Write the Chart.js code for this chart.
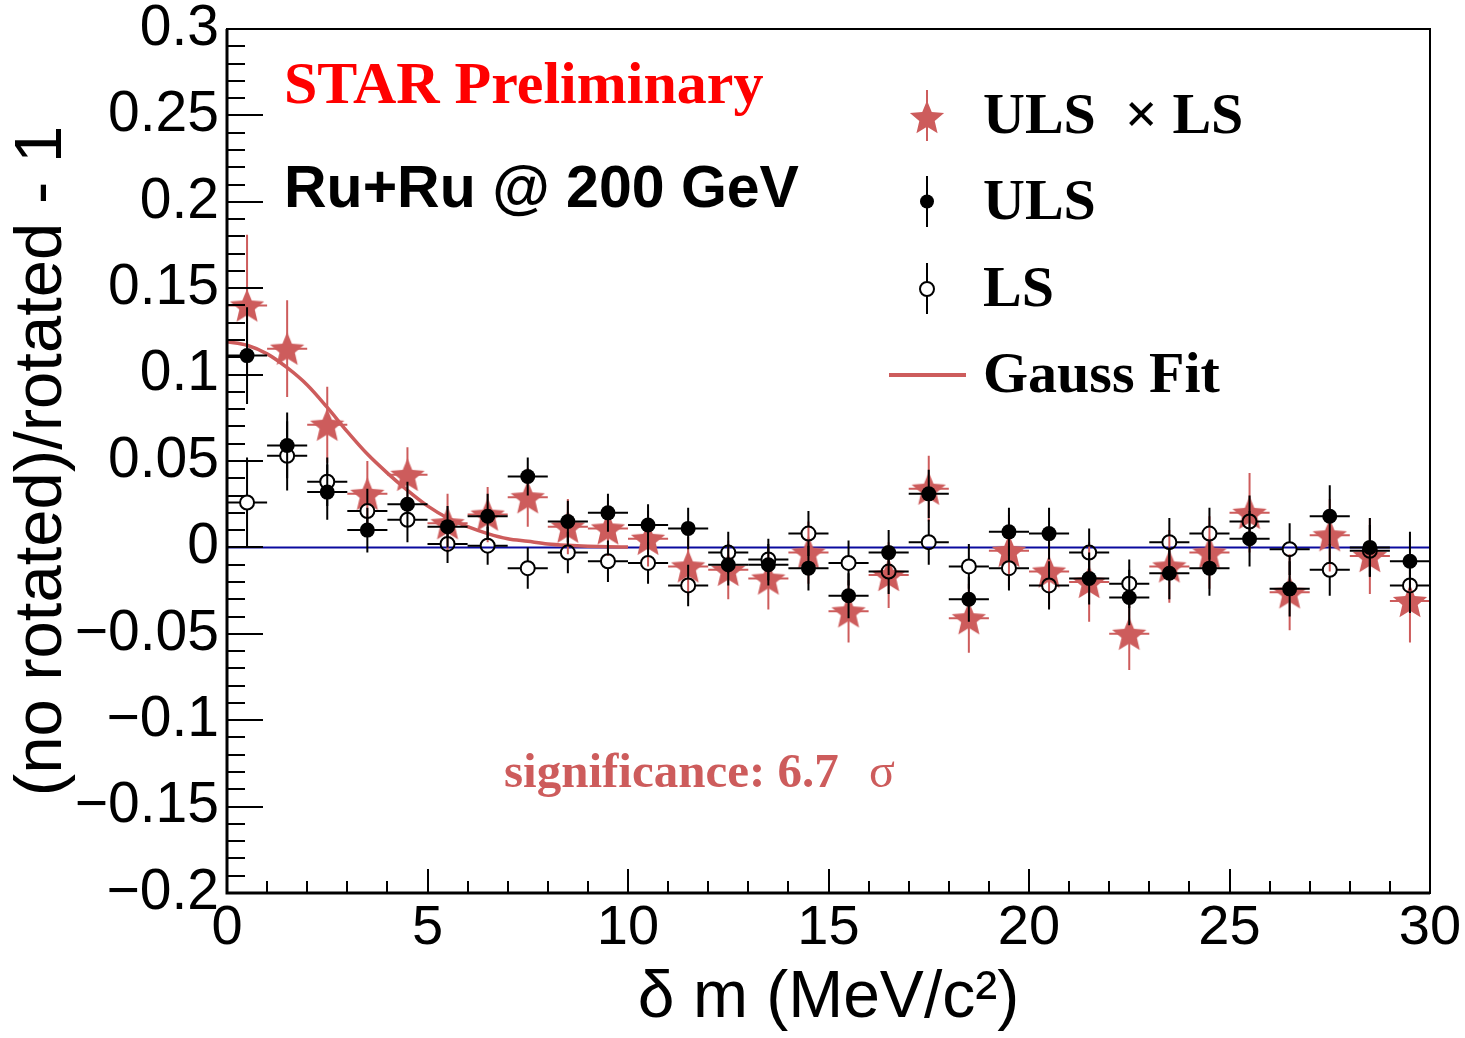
<!DOCTYPE html>
<html><head><meta charset="utf-8">
<script src="https://cdn.jsdelivr.net/npm/chart.js@4.4.0/dist/chart.umd.min.js"></script>
<style>html,body{margin:0;padding:0;background:#fff;overflow:hidden}#wrap{width:1465px;height:1038px}</style>
</head><body><div id="wrap"><canvas id="c" width="1465" height="1038"></canvas></div>
<script>
// ---------------- data ----------------
const binCenters = [0.5,1.5,2.5,3.5,4.5,5.5,6.5,7.5,8.5,9.5,10.5,11.5,12.5,13.5,14.5,15.5,16.5,17.5,18.5,19.5,20.5,21.5,22.5,23.5,24.5,25.5,26.5,27.5,28.5,29.5];
const binHalfWidth = 0.5;
const ulsXls = [0.140,0.115,0.071,0.031,0.042,0.014,0.019,0.029,0.012,0.011,0.005,-0.011,-0.013,-0.018,-0.003,-0.037,-0.016,0.034,-0.041,-0.002,-0.014,-0.020,-0.050,-0.011,-0.003,0.020,-0.026,0.007,-0.005,-0.031];
const ulsXlsErr = [0.041,0.028,0.022,0.019,0.016,0.017,0.016,0.017,0.016,0.016,0.016,0.017,0.017,0.018,0.018,0.018,0.019,0.019,0.020,0.021,0.021,0.023,0.021,0.021,0.021,0.023,0.022,0.021,0.022,0.024];
const uls = [0.111,0.059,0.032,0.010,0.025,0.012,0.018,0.041,0.015,0.020,0.013,0.011,-0.010,-0.010,-0.012,-0.028,-0.003,0.031,-0.030,0.009,0.008,-0.018,-0.029,-0.015,-0.012,0.005,-0.024,0.018,0.000,-0.008];
const ulsErr = [0.028,0.019,0.016,0.013,0.013,0.012,0.013,0.011,0.012,0.011,0.012,0.012,0.012,0.012,0.013,0.013,0.013,0.014,0.013,0.014,0.015,0.015,0.016,0.015,0.016,0.016,0.016,0.018,0.017,0.017];
const ls = [0.026,0.053,0.038,0.021,0.016,0.002,0.001,-0.012,-0.003,-0.008,-0.009,-0.022,-0.003,-0.007,0.008,-0.009,-0.014,0.003,-0.011,-0.012,-0.022,-0.003,-0.021,0.003,0.008,0.015,-0.001,-0.013,-0.002,-0.022];
const lsErr = [0.026,0.020,0.014,0.013,0.013,0.011,0.011,0.012,0.012,0.012,0.012,0.012,0.012,0.012,0.013,0.013,0.013,0.013,0.013,0.013,0.014,0.014,0.014,0.014,0.015,0.015,0.015,0.015,0.015,0.016];
const gaussX = [0,0.5,1,1.5,2,2.5,3,3.5,4,4.5,5,5.5,6,6.5,7,7.5,8,8.5,9,9.5,10];
const gaussY = [0.119,0.117,0.112,0.104,0.094,0.081,0.067,0.054,0.043,0.033,0.024,0.017,0.012,0.008,0.005,0.0035,0.002,0.0012,0.0007,0.0004,0.0002];
const zeroLineX = [0,30];
const zeroLineY = [0,0];
const xTickLabels = ['0','5','10','15','20','25','30'];
const yTickLabels = ['\u22120.2','\u22120.15','\u22120.1','\u22120.05','0','0.05','0.1','0.15','0.2','0.25','0.3'];

// ---------------- styling ----------------
const RED = '#cd5c5c';
const SANS = '"Liberation Sans", Arial, sans-serif';
const SERIF = '"Liberation Serif", "Times New Roman", serif';

function makeStar(R, color) {
  const c = document.createElement('canvas');
  const s = Math.ceil(2 * R + 2);
  c.width = s; c.height = s;
  const g = c.getContext('2d');
  const cx = s / 2, cy = s / 2 + R * 0.09;
  const r = R * 0.45;
  g.beginPath();
  for (let i = 0; i < 10; i++) {
    const a = -Math.PI / 2 + i * Math.PI / 5;
    const rr = (i % 2 === 0) ? R : r;
    const px = cx + rr * Math.cos(a), py = cy + rr * Math.sin(a);
    if (i === 0) g.moveTo(px, py); else g.lineTo(px, py);
  }
  g.closePath();
  g.fillStyle = color;
  g.fill();
  return c;
}
const starImg = makeStar(18, RED);

const pts = (xs, ys) => xs.map((x, i) => ({x, y: ys[i]}));

const errPlugin = {
  id: 'errbars',
  beforeDatasetDraw(chart, args) {
    const ds = chart.data.datasets[args.index];
    if (!ds.yErr) return;
    const xs = chart.scales.x, ys = chart.scales.y;
    const ctx = chart.ctx;
    ctx.save();
    ctx.strokeStyle = ds.errColor;
    ctx.lineWidth = 2;
    const gap = ds.errGap || 0;
    ds.data.forEach((p, i) => {
      const px = xs.getPixelForValue(p.x), py = ys.getPixelForValue(p.y);
      const x0 = xs.getPixelForValue(p.x - binHalfWidth), x1 = xs.getPixelForValue(p.x + binHalfWidth);
      const yt = ys.getPixelForValue(p.y + ds.yErr[i]), yb = ys.getPixelForValue(p.y - ds.yErr[i]);
      ctx.beginPath();
      ctx.moveTo(x0, py); ctx.lineTo(px - gap, py);
      ctx.moveTo(px + gap, py); ctx.lineTo(x1, py);
      ctx.moveTo(px, yt); ctx.lineTo(px, Math.min(yb, py - gap) < yt ? yt : py - gap);
      ctx.moveTo(px, py + gap); ctx.lineTo(px, Math.max(yb, py + gap));
      ctx.stroke();
    });
    ctx.restore();
  }
};

const decorPlugin = {
  id: 'decor',
  afterDatasetsDraw(chart) {
    const ctx = chart.ctx;
    const a = chart.chartArea;
    const xs = chart.scales.x, ys = chart.scales.y;
    ctx.save();
    // frame
    ctx.strokeStyle = '#000';
    ctx.lineWidth = 2;
    ctx.strokeRect(a.left, a.top, a.right - a.left, a.bottom - a.top);
    ctx.lineWidth = 3;
    ctx.beginPath();
    ctx.moveTo(a.left, a.top); ctx.lineTo(a.left, a.bottom); ctx.lineTo(a.right, a.bottom);
    ctx.stroke();
    // ticks
    ctx.lineWidth = 2;
    ctx.beginPath();
    for (let k = 0; k <= 50; k++) {
      const v = -0.2 + k * 0.01;
      const py = Math.round(ys.getPixelForValue(v));
      const len = (k % 5 === 0) ? 36 : 18;
      ctx.moveTo(a.left, py); ctx.lineTo(a.left + len, py);
    }
    for (let k = 0; k <= 30; k++) {
      const px = Math.round(xs.getPixelForValue(k));
      const len = (k % 5 === 0) ? 24 : 12;
      ctx.moveTo(px, a.bottom); ctx.lineTo(px, a.bottom - len);
    }
    ctx.stroke();

    // texts
    ctx.textAlign = 'left';
    ctx.textBaseline = 'alphabetic';
    ctx.fillStyle = '#ff0000';
    ctx.font = 'bold 60px ' + SERIF;
    ctx.fillText('STAR Preliminary', 284, 103);
    ctx.fillStyle = '#000';
    ctx.font = 'bold 59px ' + SANS;
    ctx.fillText('Ru+Ru @ 200 GeV', 284, 207);
    ctx.fillStyle = RED;
    ctx.font = 'bold 49px ' + SERIF;
    ctx.fillText('significance: 6.7', 504, 787);
    ctx.font = '48px ' + SERIF;
    ctx.fillText('\u03c3', 869, 787);

    // legend
    const mx = 927;
    ctx.lineWidth = 2;
    ctx.strokeStyle = RED;
    ctx.beginPath(); ctx.moveTo(mx, 90); ctx.lineTo(mx, 141); ctx.stroke();
    ctx.drawImage(starImg, mx - starImg.width / 2, 117 - starImg.height / 2);
    ctx.strokeStyle = '#000';
    ctx.beginPath(); ctx.moveTo(mx, 176); ctx.lineTo(mx, 227); ctx.stroke();
    ctx.fillStyle = '#000';
    ctx.beginPath(); ctx.arc(mx, 201.5, 7, 0, Math.PI * 2); ctx.fill();
    ctx.beginPath(); ctx.moveTo(mx, 263); ctx.lineTo(mx, 282); ctx.moveTo(mx, 296); ctx.lineTo(mx, 314); ctx.stroke();
    ctx.beginPath(); ctx.arc(mx, 289, 7, 0, Math.PI * 2); ctx.fillStyle = '#fff'; ctx.fill(); ctx.stroke();
    ctx.strokeStyle = RED; ctx.lineWidth = 4;
    ctx.beginPath(); ctx.moveTo(889, 375); ctx.lineTo(966, 375); ctx.stroke();
    ctx.fillStyle = '#000';
    ctx.font = 'bold 58px ' + SERIF;
    ctx.fillText('ULS  \u00d7 LS', 983, 133);
    ctx.fillText('ULS', 983, 219);
    ctx.fillText('LS', 983, 306);
    ctx.fillText('Gauss Fit', 983, 392);
    ctx.restore();
  }
};

const chart = new Chart(document.getElementById('c'), {
  type: 'scatter',
  data: {
    datasets: [
      { label: 'LS', data: pts(binCenters, ls), yErr: lsErr, errColor: '#000', errGap: 7,
        pointStyle: 'circle', pointRadius: 7, pointBorderWidth: 2, pointBorderColor: '#000',
        pointBackgroundColor: 'rgba(0,0,0,0)', order: 0 },
      { label: 'ULS', data: pts(binCenters, uls), yErr: ulsErr, errColor: '#000', errGap: 0,
        pointStyle: 'circle', pointRadius: 7.5, pointBorderWidth: 0, pointBorderColor: '#000',
        pointBackgroundColor: '#000', order: 1 },
      { label: 'Gauss Fit', type: 'line', data: pts(gaussX, gaussY), borderColor: RED, borderWidth: 3.5,
        pointRadius: 0, cubicInterpolationMode: 'monotone', fill: false, order: 2 },
      { label: 'ULS \u00d7 LS', data: pts(binCenters, ulsXls), yErr: ulsXlsErr, errColor: RED, errGap: 0,
        pointStyle: starImg, pointRadius: 18, order: 3 },
      { label: 'zero', type: 'line', data: pts(zeroLineX, zeroLineY), borderColor: '#0a0a9e', borderWidth: 2,
        pointRadius: 0, fill: false, order: 4 }
    ]
  },
  options: {
    responsive: false, animation: false, devicePixelRatio: 1,
    layout: { padding: { left: 0, right: 35, top: 29, bottom: 0 } },
    plugins: { legend: { display: false }, tooltip: { enabled: false } },
    scales: {
      x: {
        type: 'linear', min: 0, max: 30,
        grid: { display: false, drawTicks: false }, border: { display: false },
        ticks: { stepSize: 5, autoSkip: false, maxRotation: 0, padding: 8, color: '#000',
          font: { family: SANS, size: 56, lineHeight: 1 },
          callback: (v) => xTickLabels[Math.round(v / 5)] },
        title: { display: true, text: '\u03b4 m (MeV/c\u00b2)', color: '#000',
          font: { family: SANS, size: 66 }, padding: { top: 0, bottom: 0 } },
        afterFit(s) { s.height = 145; s.paddingLeft = 0; s.paddingRight = 0; }
      },
      y: {
        type: 'linear', min: -0.2, max: 0.3,
        grid: { display: false, drawTicks: false }, border: { display: false },
        ticks: { stepSize: 0.05, autoSkip: false, padding: 8, color: '#000',
          font: { family: SANS, size: 57, lineHeight: 1 },
          callback: (v) => yTickLabels[Math.round((v + 0.2) / 0.05)] },
        title: { display: true, text: '(no rotated)/rotated - 1', color: '#000',
          font: { family: SANS, size: 67 }, padding: { top: 2, bottom: 0 } },
        afterFit(s) { s.width = 227; s.paddingTop = 0; s.paddingBottom = 0; }
      }
    }
  },
  plugins: [errPlugin, decorPlugin]
});
</script></body></html>
